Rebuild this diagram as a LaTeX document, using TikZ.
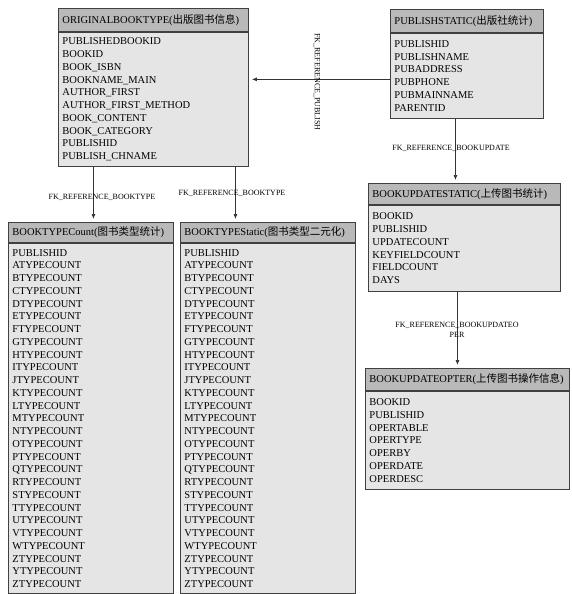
\documentclass[tikz,border=0pt]{standalone}
\usepackage{fontspec}
\setmainfont{Liberation Serif}
\newfontfamily\cjk{Noto Sans CJK SC}
\usetikzlibrary{positioning,arrows.meta}

\newcommand{\typecountrows}{PUBLISHID\\ ATYPECOUNT\\ BTYPECOUNT\\ CTYPECOUNT\\ DTYPECOUNT\\
    ETYPECOUNT\\ FTYPECOUNT\\ GTYPECOUNT\\ HTYPECOUNT\\ ITYPECOUNT\\ JTYPECOUNT\\ KTYPECOUNT\\
    LTYPECOUNT\\ MTYPECOUNT\\ NTYPECOUNT\\ OTYPECOUNT\\ PTYPECOUNT\\ QTYPECOUNT\\ RTYPECOUNT\\
    STYPECOUNT\\ TTYPECOUNT\\ UTYPECOUNT\\ VTYPECOUNT\\ WTYPECOUNT\\ ZTYPECOUNT\\ YTYPECOUNT\\
    ZTYPECOUNT}

\begin{document}
\begin{tikzpicture}[
        x=1pt, y=-1pt,
        tblHead/.style={rectangle, draw=black!75, fill=gray!55, line width=0.9pt, inner xsep=4pt, inner ysep=0pt, minimum height=22pt, anchor=north west, align=left, font=\fontsize{10.5}{12}\selectfont},
        tblBody/.style={rectangle, draw=black!75, fill=gray!20, line width=0.9pt, inner xsep=4pt, inner ysep=0pt, align=left, font=\fontsize{10.5}{12.75}\selectfont},
        fkLine/.style={draw=black!80, line width=0.7pt, -{Latex[length=5pt,width=4pt]}, shorten >=3pt},
        fkLabel/.style={font=\fontsize{8}{9.5}\selectfont, inner sep=0pt, align=center}
    ]
        \useasboundingbox (0,0) rectangle (571,594);

        % Tables
        \node[tblHead, text width=182pt, minimum height=23pt] (origHead) at (58,8) {ORIGINALBOOKTYPE({\cjk 出版图书信息})};
        \node[tblBody, below=0pt of origHead, text width=182pt, minimum height=134pt] (origBody) {PUBLISHEDBOOKID\\ BOOKID\\ BOOK\_ISBN\\ BOOKNAME\_MAIN\\ AUTHOR\_FIRST\\ AUTHOR\_FIRST\_METHOD\\ BOOK\_CONTENT\\ BOOK\_CATEGORY\\ PUBLISHID\\ PUBLISH\_CHNAME};

        \node[tblHead, text width=145pt, minimum height=23pt] (pubHead) at (390,9) {PUBLISHSTATIC({\cjk 出版社统计})};
        \node[tblBody, below=0pt of pubHead, text width=145pt, minimum height=85pt] (pubBody) {PUBLISHID\\ PUBLISHNAME\\ PUBADDRESS\\ PUBPHONE\\ PUBMAINNAME\\ PARENTID};

        \node[tblHead, text width=184pt, minimum height=21pt] (bupHead) at (368,183) {BOOKUPDATESTATIC({\cjk 上传图书统计})};
        \node[tblBody, below=0pt of bupHead, text width=184pt, minimum height=86pt] (bupBody) {BOOKID\\ PUBLISHID\\ UPDATECOUNT\\ KEYFIELDCOUNT\\ FIELDCOUNT\\ DAYS};

        \node[tblHead, text width=196pt] (bopHead) at (365,368) {BOOKUPDATEOPTER({\cjk 上传图书操作信息})};
        \node[tblBody, below=0pt of bopHead, text width=196pt, minimum height=98pt] (bopBody) {BOOKID\\ PUBLISHID\\ OPERTABLE\\ OPERTYPE\\ OPERBY\\ OPERDATE\\ OPERDESC};

        \node[tblHead, text width=157pt, minimum height=20pt] (btcHead) at (8,222) {BOOKTYPECount({\cjk 图书类型统计})};
        \node[tblBody, below=0pt of btcHead, text width=157pt, minimum height=350pt] (btcBody) {\typecountrows};

        \node[tblHead, text width=167pt, minimum height=20pt] (btsHead) at (180,222) {BOOKTYPEStatic({\cjk 图书类型二元化})};
        \node[tblBody, below=0pt of btsHead, text width=167pt, minimum height=350pt] (btsBody) {\typecountrows};

        % Edges
        \coordinate (pubOut) at ([yshift=-3.5pt]pubBody.west);
        \coordinate (btcIn) at ([xshift=2.5pt]btcHead.north);
        \coordinate (btsIn) at ([xshift=-32.5pt]btsHead.north);
        \coordinate (bupIn) at ([xshift=-9pt]bupHead.north);
        \coordinate (bopIn) at ([xshift=-10pt]bopHead.north);
        \draw[fkLine] (pubOut) -- (pubOut -| origBody.east);
        \draw[fkLine] (btcIn |- origBody.south) -- (btcIn);
        \draw[fkLine] (btsIn |- origBody.south) -- (btsIn);
        \draw[fkLine] (bupIn |- pubBody.south) -- (bupIn);
        \draw[fkLine] (bopIn |- bupBody.south) -- (bopIn);

        % Labels for the references
        \node[fkLabel, rotate=-90] (lblPublish) at (317,82) {FK\_REFERENCE\_PUBLISH};
        \node[fkLabel] (lblTypeCount) at (102,197) {FK\_REFERENCE\_BOOKTYPE};
        \node[fkLabel] (lblTypeStatic) at (232,193) {FK\_REFERENCE\_BOOKTYPE};
        \node[fkLabel] (lblUpdate) at (451,148) {FK\_REFERENCE\_BOOKUPDATE};
        \node[fkLabel] (lblUpdateOper) at (457,330) {FK\_REFERENCE\_BOOKUPDATEO\\ PER};
    \end{tikzpicture}
\end{document}
